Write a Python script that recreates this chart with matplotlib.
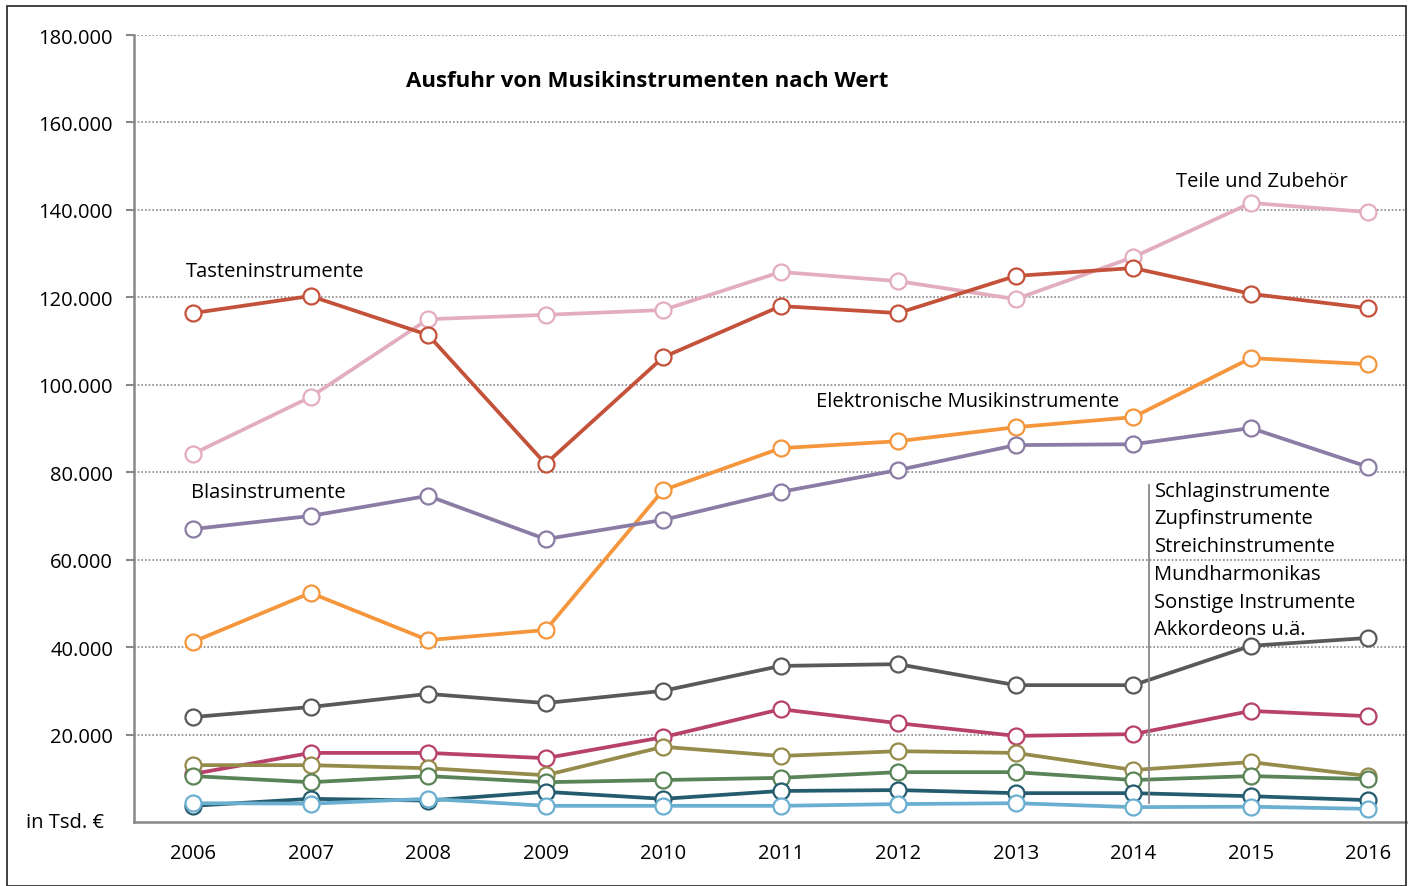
import matplotlib.pyplot as plt
from matplotlib.patches import Rectangle

plt.rcParams['font.family'] = ['Open Sans', 'DejaVu Sans']

# Jahre und Werte (in Tsd. Euro)
jahre = [2006, 2007, 2008, 2009, 2010, 2011, 2012, 2013, 2014, 2015, 2016]

teile = [84200, 97200, 115000, 116000, 117100, 125800, 123700, 119600, 129200, 141600, 139500]
tasten = [116400, 120300, 111400, 81900, 106300, 118000, 116400, 124900, 126700, 120800, 117500]
elektronisch = [41200, 52400, 41600, 43900, 75900, 85500, 87100, 90300, 92600, 106100, 104700]
blas = [67000, 70000, 74600, 64700, 69100, 75500, 80500, 86200, 86400, 90100, 81200]
schlag = [24000, 26300, 29300, 27200, 30000, 35700, 36100, 31300, 31300, 40300, 42100]
zupf = [11000, 15800, 15800, 14600, 19400, 25800, 22600, 19700, 20100, 25400, 24200]
streich = [13000, 13000, 12300, 10700, 17200, 15100, 16200, 15800, 11900, 13700, 10500]
mundharmonikas = [10500, 9100, 10500, 9100, 9600, 10100, 11400, 11400, 9600, 10500, 9800]
sonstige = [3700, 5300, 4900, 6900, 5300, 7100, 7300, 6600, 6600, 5900, 5000]
akkordeons = [4300, 4200, 5300, 3700, 3700, 3700, 4100, 4300, 3400, 3500, 3000]

serien = [
    (teile, '#e3adc0'),
    (tasten, '#c4513a'),
    (elektronisch, '#f5963c'),
    (blas, '#8a7ca4'),
    (schlag, '#595959'),
    (zupf, '#b8416c'),
    (streich, '#958b4a'),
    (mundharmonikas, '#5a8457'),
    (sonstige, '#255b6e'),
    (akkordeons, '#6aafd0'),
]

fs = 14.5

fig = plt.figure(figsize=(14.13, 8.87), dpi=100)
ax = fig.add_axes([134/1413, 1-823/887, (1406-134)/1413, (823-36)/887])

for werte, farbe in serien:
    ax.plot(jahre, werte, color=farbe, linewidth=2.7, marker='o', markersize=11.5,
            markerfacecolor='white', markeredgecolor=farbe, markeredgewidth=1.6, zorder=3)

ax.set_xlim(2005.498, 2016.32)
ax.set_ylim(0, 180000)
yticks = list(range(20000, 180001, 20000))
ax.set_yticks(yticks)
ax.set_yticklabels([f'{v:,}'.replace(',', '.') for v in yticks], fontsize=fs)
ax.set_xticks(jahre)
ax.set_xticklabels([str(j) for j in jahre], fontsize=fs)
ax.tick_params(axis='x', length=0, pad=15)
ax.tick_params(axis='y', length=6, width=1.5, color='#888888', pad=9)
ax.grid(axis='y', linestyle=(0, (1, 1.2)), color='#888888', linewidth=1.2, zorder=0)

for s in ['top', 'right']:
    ax.spines[s].set_visible(False)
ax.spines['left'].set_color('#888888')
ax.spines['left'].set_linewidth(1.8)
ax.spines['bottom'].set_color('#888888')
ax.spines['bottom'].set_linewidth(1.8)

ax.text(2005.498 - 30/117.5, 0, 'in Tsd. €', fontsize=fs, ha='right', va='center')

ax.set_title('Ausfuhr von Musikinstrumenten nach Wert', fontsize=16, fontweight='bold',
             x=(647-134)/1272, y=0.925, ha='center')

ax.text(2014.36, 146500, 'Teile und Zubehör', fontsize=fs, ha='left', va='center')
ax.text(2005.94, 126000, 'Tasteninstrumente', fontsize=fs, ha='left', va='center')
ax.text(2011.3, 96400, 'Elektronische Musikinstrumente', fontsize=fs, ha='left', va='center')
ax.text(2005.98, 75400, 'Blasinstrumente', fontsize=fs, ha='left', va='center')

gruppe = ['Schlaginstrumente', 'Zupfinstrumente', 'Streichinstrumente',
          'Mundharmonikas', 'Sonstige Instrumente', 'Akkordeons u.ä.']
for i, name in enumerate(gruppe):
    ax.text(2014.18, 75800 - i * 6350, name, fontsize=fs, ha='left', va='center')
ax.plot([2014.13, 2014.13], [4300, 77000], color='#888888', linewidth=1.3, zorder=4)

fig.patches.append(Rectangle((7/1413, 0), 1399/1413, 1-7/887, transform=fig.transFigure,
                             fill=False, edgecolor='#333333', linewidth=1.3))

fig.savefig('out.png', dpi=100)
